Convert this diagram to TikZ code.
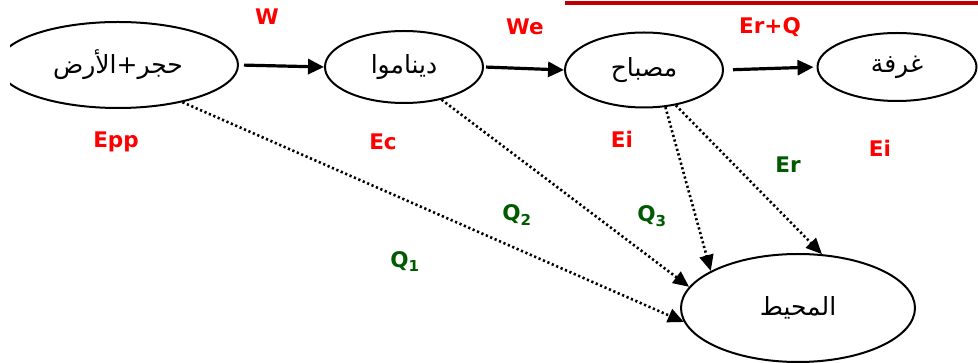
\documentclass[tikz,border=0pt]{standalone}
\usepackage{fontspec}
\setmainfont{DejaVu Sans}
\newfontfamily\arabicfont[Script=Arabic]{DejaVu Sans}
\TeXXeTstate=1
\usetikzlibrary{shapes.geometric,arrows.meta}
\definecolor{lblred}{RGB}{255,0,0}
\definecolor{lblgreen}{RGB}{0,90,0}
\definecolor{linered}{RGB}{192,0,0}
\begin{document}
\begin{tikzpicture}[x=1pt,y=-1pt,
  ell/.style={ellipse,draw,line width=2pt,inner sep=0pt},
  artext/.style={font=\arabicfont\fontsize{25}{28}\selectfont},
  solidarrow/.style={line width=3.2pt,-{Triangle[length=16pt,width=15pt]}},
  dotarrow/.style={line width=2.6pt,dash pattern=on 2.2pt off 2.6pt,-{Triangle[length=16pt,width=14pt]}},
  redlbl/.style={text=lblred,font=\bfseries\fontsize{21.5}{24}\selectfont,anchor=base,inner sep=0pt},
  greenlbl/.style={text=lblgreen,font=\bfseries\fontsize{21.5}{24}\selectfont,anchor=base,inner sep=0pt}]
\useasboundingbox (0,0) rectangle (978,363);

% top red rule
\coordinate (rl) at (565,3);
\coordinate (rr) at (978,3);
\draw[linered,line width=3.5pt] (rl) -- (rr);

\begin{scope}
  \clip (10,0) rectangle (300,200);
  \node[ell,artext,minimum width=240pt,minimum height=86pt] (e1) at (118,65) {\beginR حجر+الأرض\endR};
\end{scope}
\node[ell,artext,minimum width=158pt,minimum height=72pt] (e2) at (404,67) {\beginR ديناموا\endR};
\node[ell,artext,minimum width=158pt,minimum height=75pt] (e3) at (644,70) {\beginR مصباح\endR};
\node[ell,artext,minimum width=159pt,minimum height=68pt] (e4) at (897,67) {\beginR غرفة\endR};
\node[ell,artext,minimum width=234pt,minimum height=108pt] (env) at (798,308) {\beginR المحيط\endR};

% solid arrows
\draw[solidarrow,shorten <=5pt] (e1.east) -- (e2.west);
\draw[solidarrow,shorten <=2pt] (e2.east) -- (e3.west);
\draw[solidarrow,shorten <=9pt,shorten >=3pt] (e3.east) -- (e4.west);

% dotted arrows
\draw[dotarrow] (e1.-30) -- (env.187);
\draw[dotarrow] (e2.-41) -- (env.169);
\draw[dotarrow] (e3.-60) -- (env.157);
\draw[dotarrow] (e3.-48) -- (env.66);

% labels
\node[redlbl] (lW) at (267,25) {W};
\node[redlbl] (lWe) at (525,35) {We};
\node[redlbl] (lErQ) at (770,34) {Er+Q};
\node[redlbl] (lEpp) at (116,148) {Epp};
\node[redlbl] (lEc) at (383,150) {Ec};
\node[redlbl] (lEi1) at (622,148) {Ei};
\node[redlbl] (lEi2) at (880,157) {Ei};
\node[greenlbl] (lEr) at (788,173) {Er};
\node[greenlbl] (lQ1) at (405,268) {Q\textsubscript{1}};
\node[greenlbl] (lQ2) at (517,221) {Q\textsubscript{2}};
\node[greenlbl] (lQ3) at (652,222) {Q\textsubscript{3}};
\end{tikzpicture}
\end{document}
